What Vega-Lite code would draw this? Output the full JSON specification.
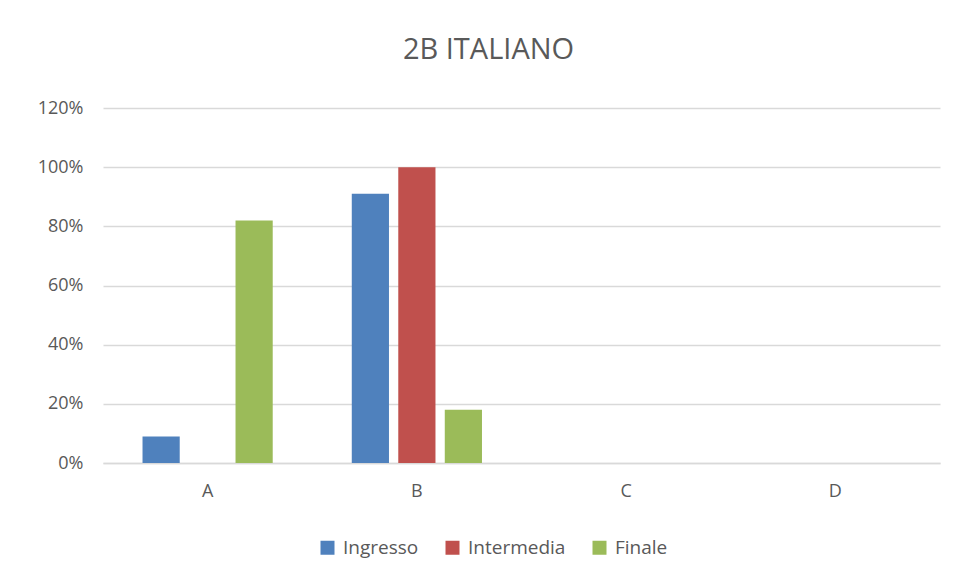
{
  "$schema": "https://vega.github.io/schema/vega-lite/v6.json",
  "width": 837,
  "height": 355,
  "autosize": {"type": "none"},
  "padding": {"left": 103, "top": 108, "right": 18, "bottom": 117},
  "background": "white",
  "title": {
    "text": "2B ITALIANO",
    "font": "Open Sans",
    "fontSize": 29,
    "fontWeight": "normal",
    "color": "#595959",
    "anchor": "middle",
    "dx": -33,
    "offset": 5,
    "baseline": "bottom"
  },
  "data": {
    "values": [
      {"cat": "A", "serie": "Ingresso", "val": 0.09},
      {"cat": "A", "serie": "Intermedia", "val": 0},
      {"cat": "A", "serie": "Finale", "val": 0.82},
      {"cat": "B", "serie": "Ingresso", "val": 0.91},
      {"cat": "B", "serie": "Intermedia", "val": 1.0},
      {"cat": "B", "serie": "Finale", "val": 0.18},
      {"cat": "C", "serie": "Ingresso", "val": 0},
      {"cat": "C", "serie": "Intermedia", "val": 0},
      {"cat": "C", "serie": "Finale", "val": 0},
      {"cat": "D", "serie": "Ingresso", "val": 0},
      {"cat": "D", "serie": "Intermedia", "val": 0},
      {"cat": "D", "serie": "Finale", "val": 0}
    ]
  },
  "mark": {"type": "bar"},
  "encoding": {
    "x": {
      "field": "cat",
      "type": "nominal",
      "scale": {"paddingInner": 0, "paddingOuter": 0},
      "axis": {
        "title": null,
        "labelAngle": 0,
        "labelFont": "Open Sans",
        "labelFontSize": 18,
        "labelColor": "#595959",
        "labelPadding": 19,
        "ticks": false,
        "domainColor": "#d9d9d9",
        "domainWidth": 1.5,
        "grid": false
      }
    },
    "xOffset": {
      "field": "serie",
      "type": "nominal",
      "sort": ["Ingresso", "Intermedia", "Finale"],
      "scale": {"paddingInner": 0.2, "paddingOuter": 0.85}
    },
    "y": {
      "field": "val",
      "type": "quantitative",
      "scale": {"domain": [0, 1.2]},
      "axis": {
        "title": null,
        "format": ".0%",
        "values": [0, 0.2, 0.4, 0.6, 0.8, 1.0, 1.2],
        "labelFont": "Open Sans",
        "labelFontSize": 18,
        "labelColor": "#595959",
        "labelPadding": 20,
        "ticks": false,
        "domain": false,
        "gridColor": "#d9d9d9",
        "gridWidth": 1.5
      }
    },
    "color": {
      "field": "serie",
      "type": "nominal",
      "sort": ["Ingresso", "Intermedia", "Finale"],
      "scale": {
        "domain": ["Ingresso", "Intermedia", "Finale"],
        "range": ["#4f81bd", "#c0504d", "#9bbb59"]
      },
      "legend": {
        "title": null,
        "orient": "none",
        "direction": "horizontal",
        "legendX": 215,
        "legendY": 430,
        "symbolType": "square",
        "symbolSize": 196,
        "symbolStrokeWidth": 0,
        "labelFont": "Open Sans",
        "labelFontSize": 19,
        "labelColor": "#595959",
        "labelOffset": 6,
        "columnPadding": 24
      }
    }
  },
  "config": {
    "view": {"stroke": null}
  }
}
